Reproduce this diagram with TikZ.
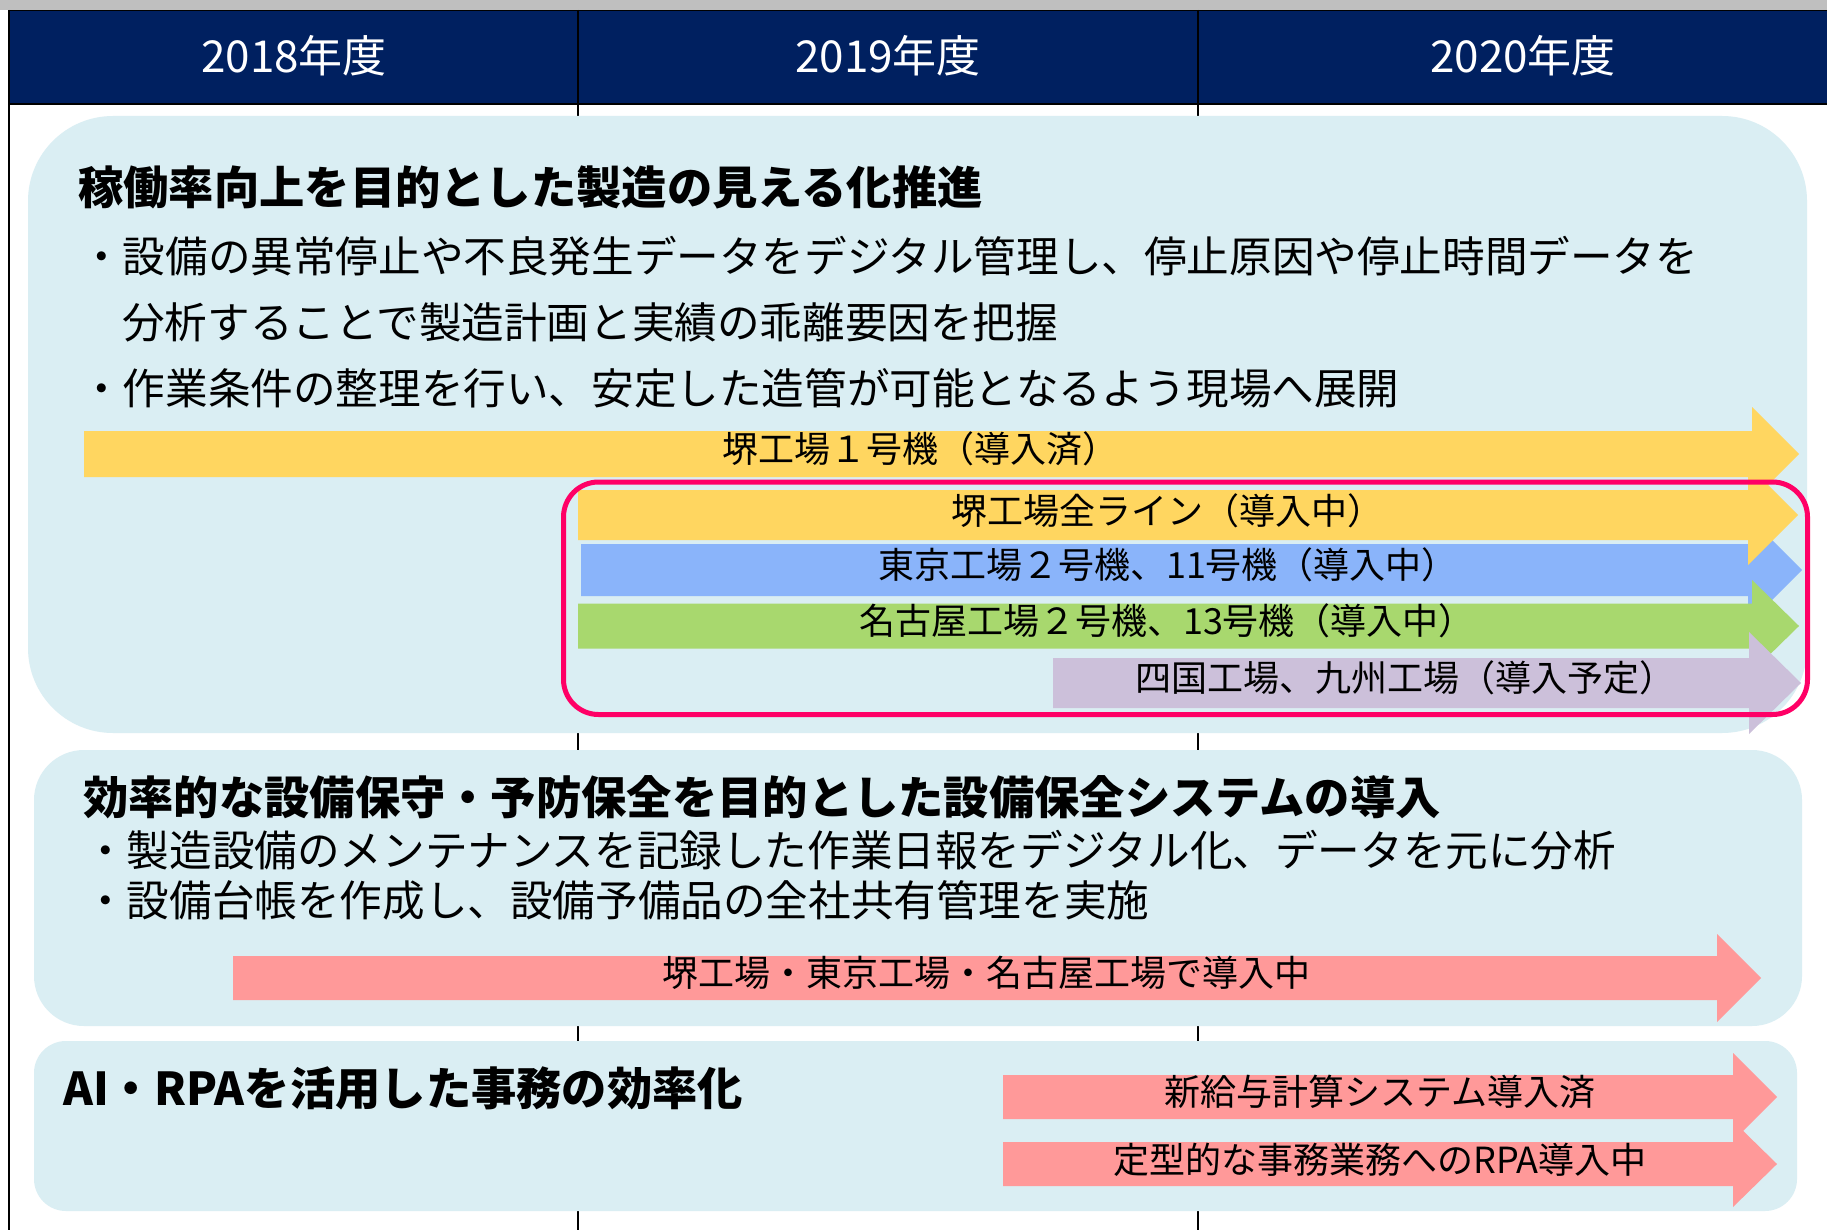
\documentclass[tikz,border=0pt]{standalone}
\usepackage{fontspec}
\setmainfont{Noto Sans CJK JP}
\definecolor{navy}{HTML}{002060}
\definecolor{topgrey}{HTML}{BFBFBF}
\definecolor{boxblue}{HTML}{DAEEF3}
\definecolor{ayellow}{HTML}{FFD660}
\definecolor{ablue}{HTML}{8AB4FA}
\definecolor{agreen}{HTML}{A8D86E}
\definecolor{alilac}{HTML}{CCC0DA}
\definecolor{apink}{HTML}{FF9999}
\definecolor{framepink}{HTML}{FF0066}
\newcommand{\harrow}[7]{\fill[#7] (#1,{#4-#5}) -- (#2,{#4-#5}) -- (#2,{#4-#6}) -- (#3,#4) -- (#2,{#4+#6}) -- (#2,{#4+#5}) -- (#1,{#4+#5}) -- cycle;}
\tikzset{
  hdr/.style={text=white, inner sep=0pt, font=\fontsize{44}{50}\selectfont, text height=38.7pt, text depth=5.3pt},
  ttl/.style={inner sep=0pt, anchor=west, font=\bfseries\fontsize{45.3}{50}\selectfont, text height=39.9pt, text depth=5.4pt},
  body/.style={inner sep=0pt, anchor=west, font=\fontsize{42.6}{50}\selectfont, text height=37.5pt, text depth=5.1pt},
  albl/.style={inner sep=0pt, font=\fontsize{36}{40}\selectfont, text height=31.7pt, text depth=4.3pt},
  panel/.style={fill=boxblue, draw=none, inner sep=0pt, outer sep=0pt},
  focusframe/.style={draw=framepink, line width=5pt, rounded corners=35pt, inner sep=0pt, outer sep=0pt},
  rule/.style={line width=2pt, black}
}
\begin{document}
\begin{tikzpicture}[x=1pt,y=-1pt]
\useasboundingbox (0,0) rectangle (1827,1230);
\fill[white] (0,0) rectangle (1827,1230);
% top strip and header band
\fill[topgrey] (0,0) rectangle (1827,10);
\fill[navy] (9,10) rectangle (1827,105);
\draw[line width=1.5pt] (9,10.5) -- (1827,10.5);
\draw[line width=2pt] (9,104.5) -- (1827,104.5);
% grid lines
\draw[rule] (9,10) -- (9,1230);
\draw[rule] (578,10) -- (578,1230);
\draw[rule] (1198,10) -- (1198,1230);
% header labels
\node[hdr] (y2018) at (294,56) {2018年度};
\node[hdr] (y2019) at (888,56) {2019年度};
\node[hdr] (y2020) at (1523,56) {2020年度};
% panels
\node[panel, rounded corners=85pt, minimum width=1779pt, minimum height=617pt] (box1) at (917.5,424.5) {};
\node[panel, rounded corners=50pt, minimum width=1768pt, minimum height=276pt] (box2) at (918,888) {};
\node[panel, rounded corners=32pt, minimum width=1763pt, minimum height=170pt] (box3) at (915.5,1126) {};
% panel 1 texts
\node[ttl] (t1) at (78,187) {稼働率向上を目的とした製造の見える化推進};
\node[body] (t1a) at (80,256) {・設備の異常停止や不良発生データをデジタル管理し、停止原因や停止時間データを};
\node[body] (t1b) at (122,322) {分析することで製造計画と実績の乖離要因を把握};
\node[body] (t1c) at (80,388) {・作業条件の整理を行い、安定した造管が可能となるよう現場へ展開};
% panel 1 arrows
\harrow{84}{1752}{1799}{454}{23}{47}{ayellow}
\harrow{581}{1748}{1802}{570}{26}{54}{ablue}
\harrow{578}{1748}{1798}{515}{25}{50}{ayellow}
\harrow{578}{1752}{1799}{626}{22.5}{46}{agreen}
\harrow{1053}{1749}{1801}{683}{25}{51}{alilac}
\node[albl] (lA) at (920,449) {堺工場１号機（導入済）};
\node[albl] (lB) at (1167,511) {堺工場全ライン（導入中）};
\node[albl] (lC) at (1168,565) {東京工場２号機、11号機（導入中）};
\node[albl] (lD) at (1167,621) {名古屋工場２号機、13号機（導入中）};
\node[albl] (lE) at (1405,678) {四国工場、九州工場（導入予定）};
\node[focusframe, minimum width=1244pt, minimum height=232.5pt] (focus) at (1185.5,598.25) {};
% panel 2
\node[ttl] (t2) at (83,797) {効率的な設備保守・予防保全を目的とした設備保全システムの導入};
\node[body] (t2a) at (84,850) {・製造設備のメンテナンスを記録した作業日報をデジタル化、データを元に分析};
\node[body] (t2b) at (84,900) {・設備台帳を作成し、設備予備品の全社共有管理を実施};
\harrow{233}{1717}{1761}{978}{22}{44}{apink}
\node[albl] (lF) at (986,973) {堺工場・東京工場・名古屋工場で導入中};
% panel 3
\node[ttl] (t3) at (63,1088) {AI・RPAを活用した事務の効率化};
\harrow{1003}{1733}{1777}{1097}{22}{44}{apink}
\harrow{1003}{1733}{1777}{1164}{22}{43}{apink}
\node[albl] (lG) at (1380,1092) {新給与計算システム導入済};
\node[albl] (lH) at (1380,1160) {定型的な事務業務へのRPA導入中};
\end{tikzpicture}
\end{document}
